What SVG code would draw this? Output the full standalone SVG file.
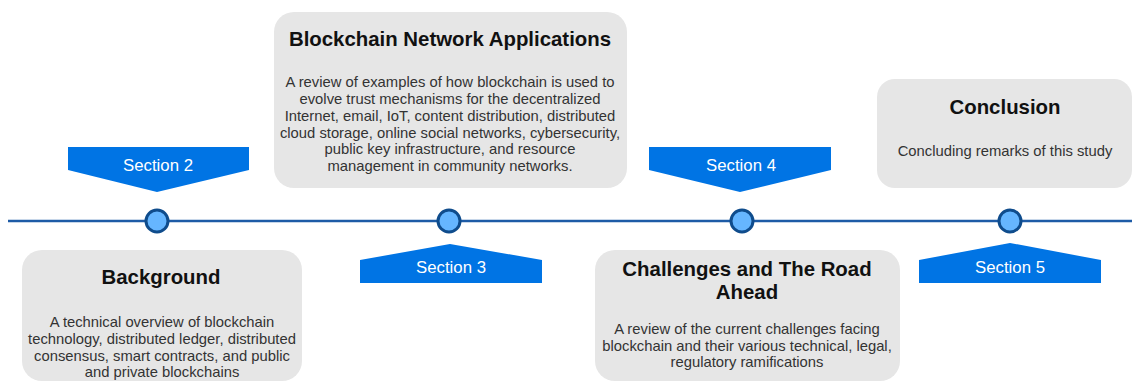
<svg xmlns="http://www.w3.org/2000/svg" width="1132" height="381" viewBox="0 0 1132 381">
  <style>
    .box { fill: #e6e6e6; }
    .title { font-family: "Liberation Sans", Arial, sans-serif; font-size: 20.4px; font-weight: bold; fill: #111111; text-anchor: middle; }
    .body { font-family: "Liberation Sans", Arial, sans-serif; font-size: 14.8px; fill: #333333; text-anchor: middle; }
    .tag { fill: #0074e4; }
    .tagtext { font-family: "Liberation Sans", Arial, sans-serif; font-size: 16.8px; fill: #ffffff; text-anchor: middle; }
    .dot { fill: #66b6ff; stroke: #0f4c8c; stroke-width: 3; }
    .axis { stroke: #1d5ba6; stroke-width: 2.5; fill: none; }
  </style>

  <!-- timeline axis -->
  <g id="connectors">
    <line class="axis" x1="8" y1="221" x2="1132" y2="221"/>
  </g>

  <!-- section tags -->
  <g id="tag-section2">
    <polygon class="tag" points="68,147 249,147 249,170 157,192 68,170"/>
    <text class="tagtext" x="158" y="171">Section 2</text>
  </g>
  <g id="tag-section3">
    <polygon class="tag" points="360,260 450,244 542,260 542,283 360,283"/>
    <text class="tagtext" x="451" y="273">Section 3</text>
  </g>
  <g id="tag-section4">
    <polygon class="tag" points="649,147 831,147 831,170 740,192 649,170"/>
    <text class="tagtext" x="741" y="171">Section 4</text>
  </g>
  <g id="tag-section5">
    <polygon class="tag" points="919,260 1010,243 1101,260 1101,283 919,283"/>
    <text class="tagtext" x="1010" y="273">Section 5</text>
  </g>

  <!-- timeline markers -->
  <g id="marker-1"><circle class="dot" cx="157" cy="221" r="11"/></g>
  <g id="marker-2"><circle class="dot" cx="449" cy="221" r="11"/></g>
  <g id="marker-3"><circle class="dot" cx="742" cy="221" r="11"/></g>
  <g id="marker-4"><circle class="dot" cx="1010" cy="221" r="11"/></g>

  <!-- content cards -->
  <g id="card-background">
    <rect class="box" x="22" y="250" width="280" height="131" rx="20"/>
    <text class="title" x="161" y="284">Background</text>
    <text class="body" x="162" y="327">A technical overview of blockchain</text>
    <text class="body" x="162" y="344">technology, distributed ledger, distributed</text>
    <text class="body" x="162" y="361">consensus, smart contracts, and public</text>
    <text class="body" x="162" y="377">and private blockchains</text>
  </g>

  <g id="card-applications">
    <rect class="box" x="274" y="12" width="353" height="176" rx="20"/>
    <text class="title" x="450" y="46">Blockchain Network Applications</text>
    <text class="body" x="450" y="87">A review of examples of how blockchain is used to</text>
    <text class="body" x="450" y="104">evolve trust mechanisms for the decentralized</text>
    <text class="body" x="450" y="121">Internet, email, IoT, content distribution, distributed</text>
    <text class="body" x="450" y="138">cloud storage, online social networks, cybersecurity,</text>
    <text class="body" x="450" y="154">public key infrastructure, and resource</text>
    <text class="body" x="450" y="171">management in community networks.</text>
  </g>

  <g id="card-challenges">
    <rect class="box" x="595" y="250" width="305" height="131" rx="20"/>
    <text class="title" x="747" y="276">Challenges and The Road</text>
    <text class="title" x="747" y="299">Ahead</text>
    <text class="body" x="747" y="334">A review of the current challenges facing</text>
    <text class="body" x="747" y="351">blockchain and their various technical, legal,</text>
    <text class="body" x="747" y="367">regulatory ramifications</text>
  </g>

  <g id="card-conclusion">
    <rect class="box" x="877" y="79" width="255" height="109" rx="18"/>
    <text class="title" x="1005" y="114">Conclusion</text>
    <text class="body" x="1005" y="156">Concluding remarks of this study</text>
  </g>
</svg>
